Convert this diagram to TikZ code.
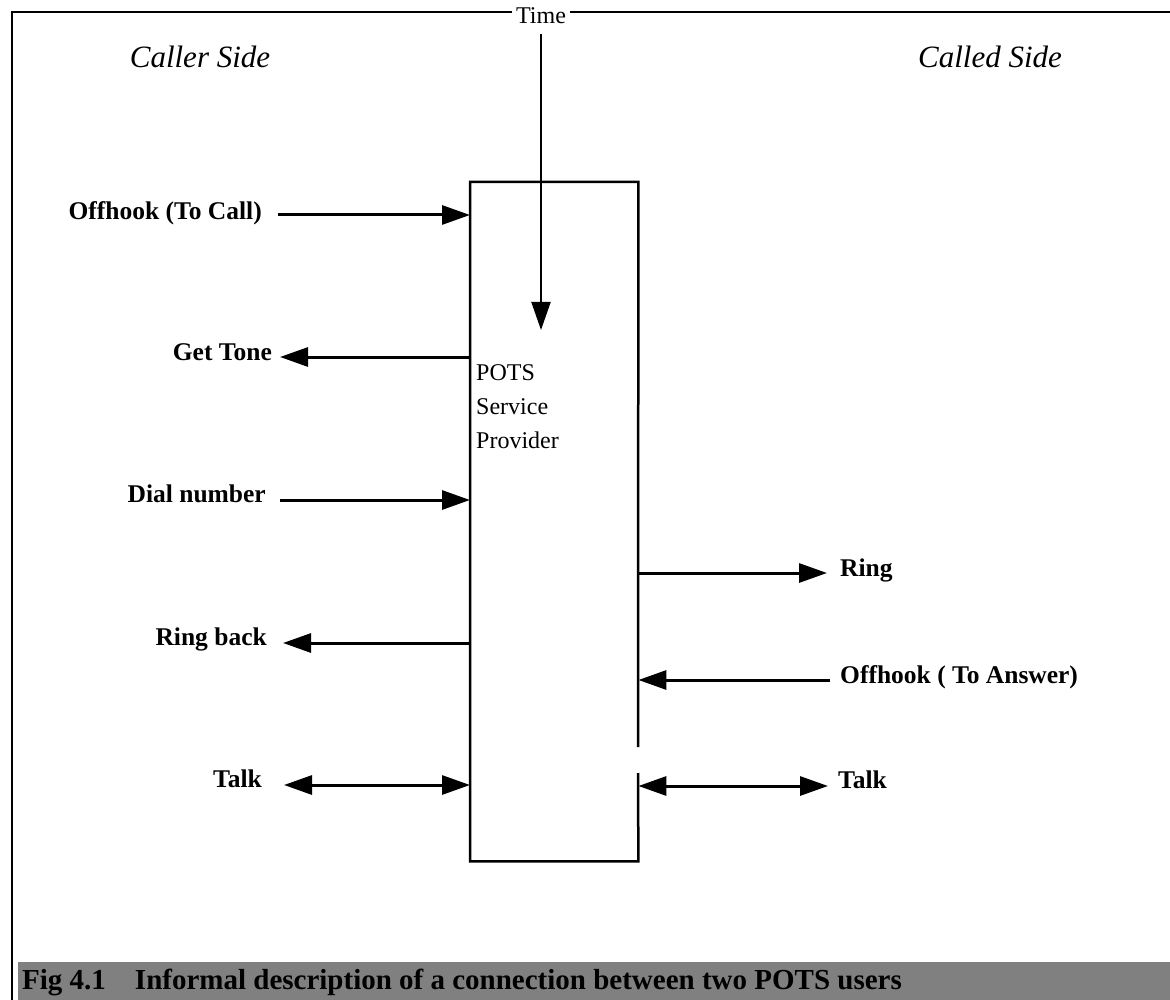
\documentclass[tikz,border=0pt]{standalone}
\usepackage{fontspec}
\setmainfont{Liberation Serif}
\usetikzlibrary{arrows.meta}
\begin{document}
\begin{tikzpicture}[x=1pt,y=-1pt,
  frameline/.style={line width=2.5pt},
  boxline/.style={line width=2.5pt},
  tip/.tip={Triangle[length=28pt,width=19pt]},
  sig/.style={line width=3pt,-tip},
  sigboth/.style={line width=3pt,tip-tip},
  timearr/.style={line width=2pt,-tip},
  lbl/.style={font=\fontsize{25.5}{30}\selectfont\bfseries, inner sep=0pt},
  side/.style={font=\fontsize{31}{36}\selectfont\itshape, inner sep=0pt},
  plain/.style={font=\fontsize{24}{34}\selectfont, inner sep=0pt},
]
\useasboundingbox (0,0) rectangle (1170,1000);

% outer frame
\draw[frameline] (12,1000) -- (12,12) -- (1172,12);

% caption bar
\fill[black!50] (18,962) rectangle (1172,1002);
\node[anchor=base west, font=\fontsize{29}{32}\selectfont\bfseries, inner sep=0pt] (cap) at (22,989)
  {Fig 4.1\quad Informal description of a connection between two POTS users};

% side titles
\node[side] (caller) at (200,57) {Caller Side};
\node[side] (called) at (990,57) {Called Side};

% service provider box
\node[minimum width=168pt, minimum height=679pt, inner sep=0pt, anchor=north west] (box) at (470,182) {};
\draw[boxline] (638,747) -- (box.north east) -- (box.north west) -- (box.south west) -- (box.south east) -- (638,773);
\node[plain, anchor=base west, align=left] (pots) at (476,448) {POTS\\Service\\Provider};

% time
\node[plain, fill=white, inner xsep=4pt, inner ysep=2pt, anchor=base] (time) at (541,24) {Time};
\coordinate (tend) at (541,330);
\draw[timearr] ([yshift=-8pt]time.south) -- (tend);

% caller side labels
\node[lbl, anchor=base east] (offcall) at (262,220) {Offhook (To Call)};
\node[lbl, anchor=base east] (tone) at (272,360) {Get Tone};
\node[lbl, anchor=base east] (dial) at (266,502) {Dial number};
\node[lbl, anchor=base east] (rback) at (267,645) {Ring back};
\node[lbl, anchor=base east] (talkl) at (262,787) {Talk};

\coordinate (a1) at (278,215);
\coordinate (a2) at (280,357);
\coordinate (a3) at (280,500);
\coordinate (a4) at (283,643);
\coordinate (a5) at (284,785);
\draw[sig] (a1) -- (a1 -| box.west);
\draw[sig] (a2 -| box.west) -- (a2);
\draw[sig] (a3) -- (a3 -| box.west);
\draw[sig] (a4 -| box.west) -- (a4);
\draw[sigboth] (a5) -- (a5 -| box.west);

% called side labels
\node[lbl, anchor=base west] (ring) at (840,576) {Ring};
\node[lbl, anchor=base west] (offans) at (840,683) {Offhook ( To Answer)};
\node[lbl, anchor=base west] (talkr) at (838,788) {Talk};

\coordinate (b1) at (827,573);
\coordinate (b2) at (830,680);
\coordinate (b3) at (828,786);
\draw[sig] (b1 -| box.east) -- (b1);
\draw[sig] (b2) -- (b2 -| box.east);
\draw[sigboth] (b3 -| box.east) -- (b3);
\end{tikzpicture}
\end{document}
